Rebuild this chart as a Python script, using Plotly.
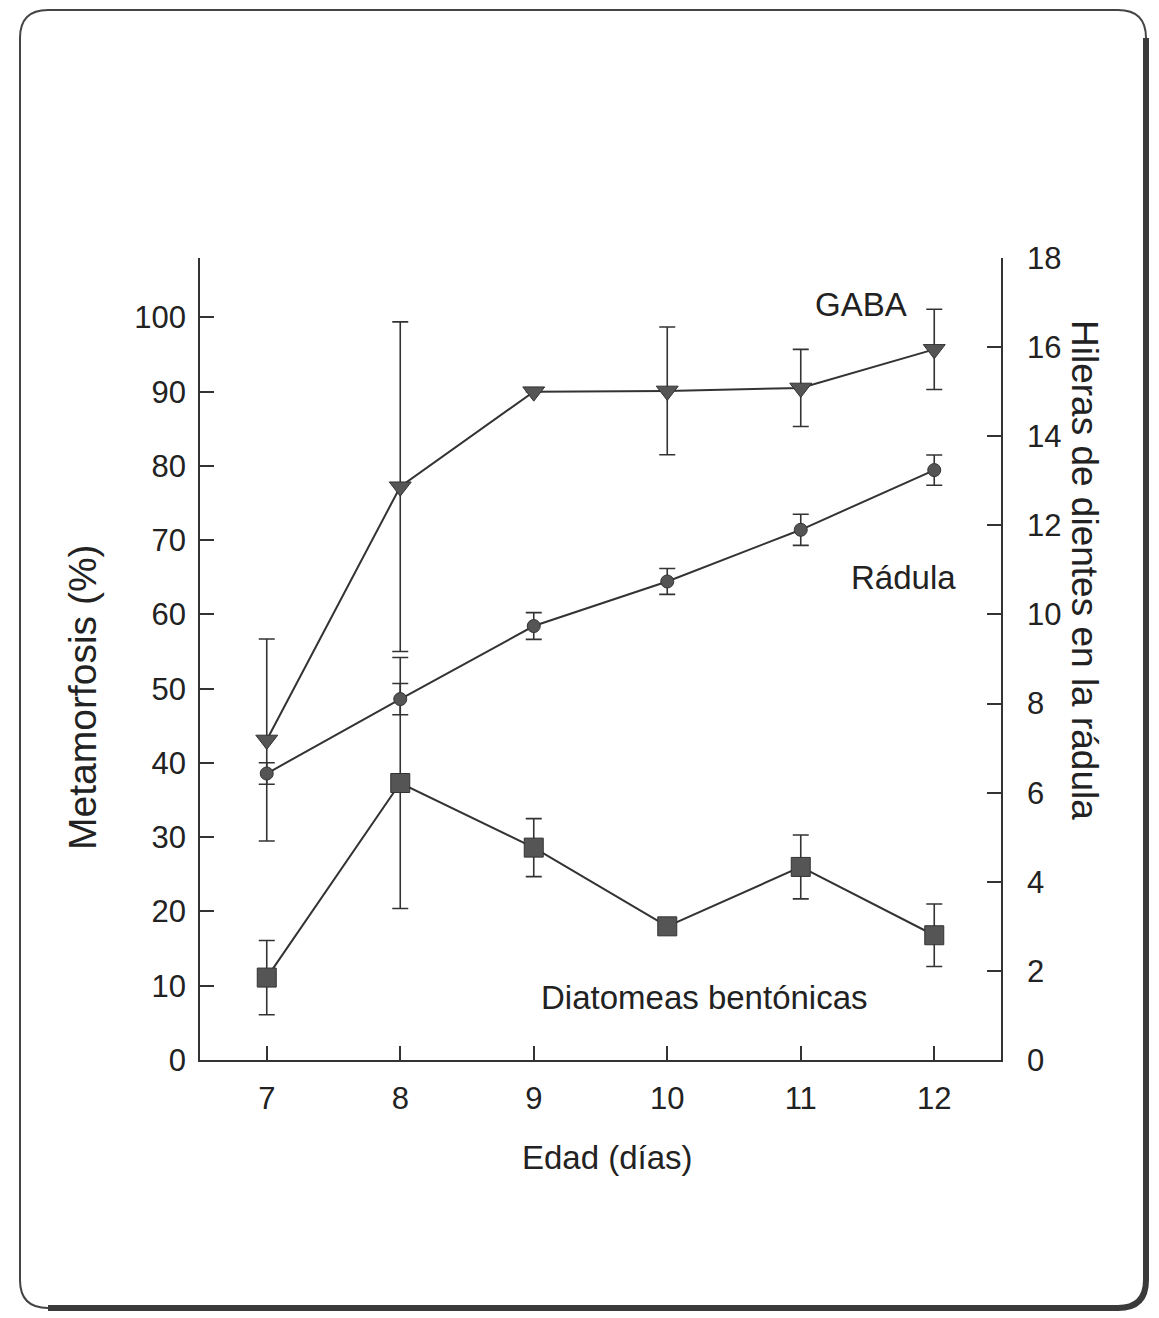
import plotly.graph_objects as go

# ---- data ----
edad = [7, 8, 9, 10, 11, 12]

gaba = [43.1, 77.2, 90.0, 90.1, 90.5, 95.7]
gaba_err = [13.6, 22.2, 0.0, 8.6, 5.2, 5.4]

diatomeas = [11.1, 37.3, 28.6, 18.0, 26.0, 16.8]
diatomeas_err = [5.0, 16.9, 3.9, 0.0, 4.3, 4.2]

radula = [6.43, 8.10, 9.74, 10.74, 11.90, 13.24]
radula_err = [0.24, 0.35, 0.30, 0.29, 0.35, 0.34]

left_ticks = [0, 10, 20, 30, 40, 50, 60, 70, 80, 90, 100]
right_ticks = [0, 2, 4, 6, 8, 10, 12, 14, 16, 18]

FONT = "Liberation Sans, Arial, sans-serif"
INK = "#333333"
FILL = "#555555"

fig = go.Figure()

err_style = dict(type="data", visible=True, color=INK, thickness=1.6, width=8)

fig.add_trace(go.Scatter(
    x=edad, y=gaba, mode="lines+markers", name="GABA",
    line=dict(color=INK, width=2),
    marker=dict(symbol="triangle-down", size=19, color=FILL, line=dict(color=INK, width=1)),
    error_y=dict(array=gaba_err, **err_style),
))
fig.add_trace(go.Scatter(
    x=edad, y=diatomeas, mode="lines+markers", name="Diatomeas bentónicas",
    line=dict(color=INK, width=2),
    marker=dict(symbol="square", size=19, color=FILL, line=dict(color=INK, width=1)),
    error_y=dict(array=diatomeas_err, **err_style),
))
fig.add_trace(go.Scatter(
    x=edad, y=radula, mode="lines+markers", name="Rádula", yaxis="y2",
    line=dict(color=INK, width=2),
    marker=dict(symbol="circle", size=13, color=FILL, line=dict(color=INK, width=1)),
    error_y=dict(array=radula_err, **err_style),
))

axis_common = dict(
    showgrid=False, zeroline=False, showline=True, linecolor=INK, linewidth=1.6,
    ticks="inside", ticklen=14, tickwidth=1.6, tickcolor=INK,
    tickfont=dict(family=FONT, size=31, color="#222222"),
)

fig.update_layout(
    width=1159, height=1318,
    margin=dict(l=200, r=158, t=258, b=258),
    paper_bgcolor="white", plot_bgcolor="white",
    showlegend=False,
    xaxis=dict(range=[6.5, 12.5], tickmode="array", tickvals=edad,
               ticklabelstandoff=10, **axis_common),
    yaxis=dict(range=[0, 108], tickmode="array", tickvals=left_ticks,
               ticklabelstandoff=6, **axis_common),
    yaxis2=dict(range=[0, 18], overlaying="y", side="right", tickmode="array",
                tickvals=right_ticks, ticklabelstandoff=18, **axis_common),
)

def ann(text, x, y, size, angle=0):
    fig.add_annotation(text=text, x=x, y=y, xref="paper", yref="paper",
                       showarrow=False, textangle=angle,
                       xanchor="center", yanchor="middle",
                       font=dict(family=FONT, size=size, color="#222222"))

# pixel -> paper helpers (plot area: x 200..1001, y 258..1060)
def px(xp):
    return (xp - 200) / 801
def py(yp):
    return (1060 - yp) / 802

ann("GABA", px(861), py(304), 33)
ann("Rádula", px(903), py(577), 33)
ann("Diatomeas bentónicas", px(704), py(997), 33)
ann("Edad (días)", px(607), py(1157), 33)
ann("Metamorfosis (%)", px(82), py(697), 39, -90)
ann("Hileras de dientes en la rádula", px(1085), py(570), 37, 90)

# rounded frame around the figure
L, R, T, B = px(20), px(1146), py(10), py(1308)
rx, ry = 28 / 801, 28 / 802
frame = (f"M{L+rx},{T} L{R-rx},{T} Q{R},{T} {R},{T-ry} L{R},{B+ry} "
         f"Q{R},{B} {R-rx},{B} L{L+rx},{B} Q{L},{B} {L},{B+ry} "
         f"L{L},{T-ry} Q{L},{T} {L+rx},{T} Z")
fig.add_shape(type="path", path=frame, xref="paper", yref="paper",
              line=dict(color="#444444", width=2), layer="below")
shadow = (f"M{R},{T-ry} L{R},{B+ry} Q{R},{B} {R-rx},{B} L{L+rx},{B}")
fig.add_shape(type="path", path=shadow, xref="paper", yref="paper",
              line=dict(color="#3a3a3a", width=6), layer="below")

fig.write_html("out.html")
